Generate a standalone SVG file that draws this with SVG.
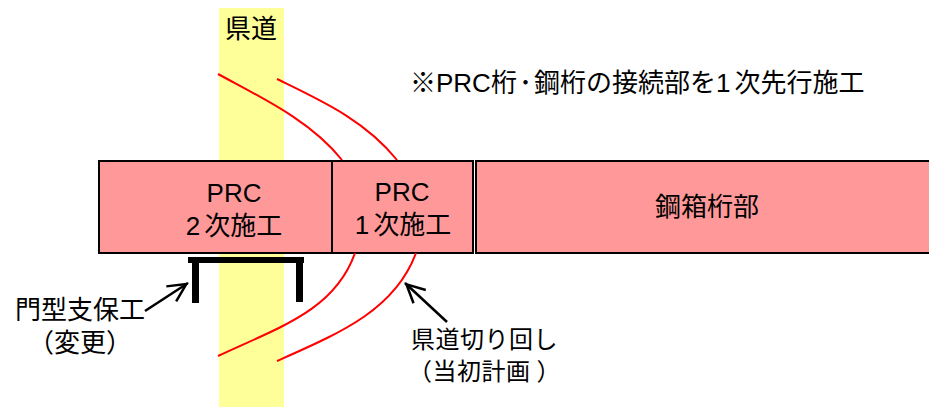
<svg xmlns="http://www.w3.org/2000/svg" width="929" height="407" viewBox="0 0 929 407">
<defs><marker id="a" markerUnits="userSpaceOnUse" markerWidth="30" markerHeight="30" refX="26" refY="15" orient="auto"><path d="M6 6L24 15L6 24" fill="none" stroke="#000" stroke-width="2.5"/></marker></defs>
<style>
text{font-family:"Liberation Sans","Noto Sans CJK JP",sans-serif;font-size:26px;fill:#000}
.m{text-anchor:middle}
.d{letter-spacing:4px}
.s{font-size:24px;letter-spacing:.5px}
.b{fill:#ff9999;stroke:#000;stroke-width:2}
.r{fill:none;stroke:#ff0000;stroke-width:2}
.k{fill:#000}
.l{fill:none;stroke:#000;stroke-width:2.5;marker-end:url(#a)}
</style>
<rect width="929" height="407" fill="#fff"/>
<g id="road"><rect x="219" y="8" width="65" height="399" fill="#ffff99"/><text class="m" x="251" y="38">県道</text></g>
<g id="prc2"><rect class="b" x="99" y="161" width="233" height="92"/><text class="m" x="234" y="202">PRC</text><text class="m" x="234" y="235"><tspan class="d">2</tspan>次施工</text></g>
<g id="prc1"><rect class="b" x="332" y="161" width="141" height="92"/><text class="m" x="402" y="201">PRC</text><text class="m" x="403" y="234"><tspan class="d">1</tspan>次施工</text></g>
<g id="steel"><rect class="b" x="476" y="161" width="460" height="92"/><text class="m" x="707" y="216">鋼箱桁部</text></g>
<g id="note"><text x="410" y="92">※PRC桁<tspan dx="2">･</tspan><tspan dx="2">鋼</tspan>桁の接続部を<tspan class="d">1</tspan>次先行施工</text></g>
<g id="support"><path class="k" d="M188 257H304V263H303V302H296V263H199V303H192V263H188Z"/><text class="m" x="80" y="319">門型支保工</text><text class="m" x="80" y="352">（変更）</text></g>
<g id="detour"><text class="s" x="411" y="348">県道切り回し</text><text class="s" x="408" y="380">（当初計画<tspan dx="6">）</tspan></text></g>
<g id="connectors">
<path class="r" d="M218 74C260 97 310 120 342 160"/><path class="r" d="M277 79C320 100 365 120 397 160"/>
<path class="r" d="M218 356C280 327 335 310 355 253"/><path class="r" d="M277 361C340 333 395 310 416 253"/>
<path class="l" d="M145 311L188 283"/><path class="l" d="M447 322L405 283"/>
</g>
</svg>
